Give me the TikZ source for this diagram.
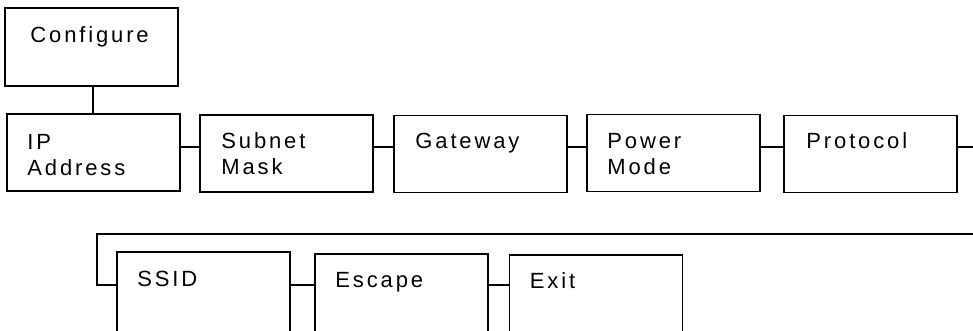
\documentclass[tikz,border=0pt]{standalone}
\usepackage{fontspec}
\setmainfont{Liberation Sans}[LetterSpace=13]
\begin{document}
\begin{tikzpicture}[x=1pt,y=-1pt,
  menubox/.style={draw,line width=1.5pt,minimum width=173pt,minimum height=77pt,inner sep=0pt},
  deepbox/.style={menubox,minimum height=100pt},
  lbl/.style={anchor=base west,inner sep=0pt,font=\fontsize{22}{26}\selectfont,align=left},
  conn/.style={line width=1.5pt}]
\useasboundingbox (0,0) rectangle (973,330);
\clip (0,0) rectangle (973,330);
% top-level box
\node[menubox,minimum height=78pt] (conf) at (91.5,47) {};
\node[lbl] (tconf) at ([xshift=26pt,yshift=-35pt]conf.north west) {Configure};
% first row
\node[menubox] (ip) at (93.5,152.5) {};
\node[menubox] (sub) at (286.5,153.5) {};
\node[menubox] (gw) at (480.5,154) {};
\node[menubox] (pwr) at (673.5,153) {};
\node[menubox] (prot) at (870.5,154) {};
\node[lbl] (tip) at ([xshift=21pt,yshift=-62pt]ip.north west) {IP\\Address};
\node[lbl] (tsub) at ([xshift=22pt,yshift=-60pt]sub.north west) {Subnet\\Mask};
\node[lbl] (tgw) at ([xshift=22pt,yshift=-34pt]gw.north west) {Gateway};
\node[lbl] (tpwr) at ([xshift=21pt,yshift=-61pt]pwr.north west) {Power\\Mode};
\node[lbl] (tprot) at ([xshift=23pt,yshift=-34pt]prot.north west) {Protocol};
% second row
\node[deepbox] (ssid) at (203.5,302) {};
\node[deepbox] (esc) at (401.5,304) {};
\node[deepbox] (exit) at (596,305) {};
\node[lbl] (tssid) at ([xshift=21pt,yshift=-35pt]ssid.north west) {SSID};
\node[lbl] (tesc) at ([xshift=21pt,yshift=-34pt]esc.north west) {Escape};
\node[lbl] (texit) at ([xshift=21pt,yshift=-34pt]exit.north west) {Exit};
% helper coordinates
\coordinate (r1) at (0,147);
\coordinate (r2) at (0,285);
\coordinate (wrap) at (0,234);
\coordinate (redge) at (973,0);
\coordinate (ledge) at (97,0);
% connectors
\draw[conn] (conf.south -| 93,0) -- (ip.north -| 93,0);
\draw[conn] (ip.east |- r1) -- (sub.west |- r1);
\draw[conn] (sub.east |- r1) -- (gw.west |- r1);
\draw[conn] (gw.east |- r1) -- (pwr.west |- r1);
\draw[conn] (pwr.east |- r1) -- (prot.west |- r1);
\draw[conn] (prot.east |- r1) -- (redge |- r1);
\draw[conn] (redge |- wrap) -- (ledge |- wrap) -- (ledge |- r2) -- (ssid.west |- r2);
\draw[conn] (ssid.east |- r2) -- (esc.west |- r2);
\draw[conn] (esc.east |- r2) -- (exit.west |- r2);
\end{tikzpicture}
\end{document}
